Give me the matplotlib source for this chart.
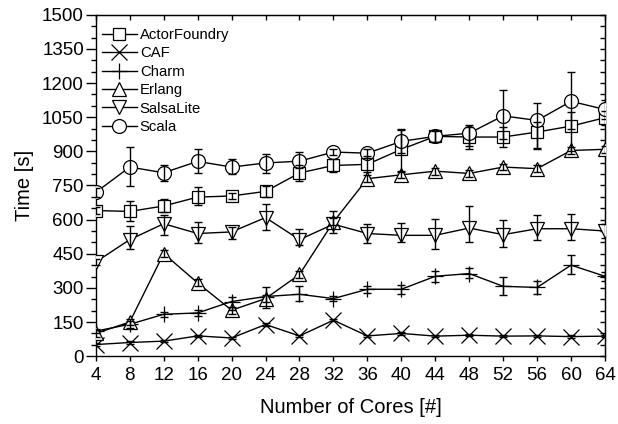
import numpy as np
import matplotlib
matplotlib.use('Agg')
import matplotlib.pyplot as plt
from matplotlib.ticker import MultipleLocator

plt.rcParams['font.family'] = ['Liberation Sans', 'DejaVu Sans']

cores = [4, 8, 12, 16, 20, 24, 28, 32, 36, 40, 44, 48, 52, 56, 60, 64]

actor = [640, 636, 660, 699, 704, 724, 805, 838, 843, 909, 966, 963, 963, 985, 1011, 1048]
actor_lo = [15, 40, 25, 35, 15, 25, 35, 30, 35, 100, 25, 40, 45, 75, 110, 30]
actor_hi = [15, 45, 30, 45, 15, 25, 35, 30, 35, 85, 30, 45, 45, 45, 60, 30]

caf = [51, 60, 66, 89, 80, 139, 89, 158, 89, 100, 88, 92, 88, 89, 86, 88]
caf_lo = [5] * 16
caf_hi = [5] * 16

charm = [110, 140, 184, 190, 240, 262, 272, 253, 294, 294, 351, 363, 307, 302, 400, 351]
charm_lo = [10, 15, 12, 12, 35, 50, 30, 10, 15, 20, 25, 20, 40, 30, 40, 20]
charm_hi = [10, 15, 12, 12, 20, 40, 35, 10, 15, 20, 25, 25, 40, 30, 45, 20]

erlang = [100, 150, 451, 322, 202, 253, 359, 590, 780, 797, 813, 803, 831, 824, 904, 909]
erlang_lo = [15] * 16
erlang_hi = [15] * 16

salsa = [414, 512, 582, 539, 546, 609, 512, 580, 539, 531, 531, 563, 534, 560, 560, 550]
salsa_lo = [15, 40, 50, 40, 30, 55, 25, 40, 40, 30, 60, 60, 55, 50, 50, 30]
salsa_hi = [15, 60, 40, 50, 20, 60, 45, 60, 40, 55, 70, 95, 65, 60, 65, 30]

scala = [720, 831, 806, 856, 831, 849, 857, 897, 892, 944, 966, 980, 1056, 1036, 1120, 1084]
scala_lo = [20, 85, 35, 50, 30, 45, 30, 15, 20, 50, 25, 70, 100, 120, 120, 40]
scala_hi = [20, 88, 35, 55, 35, 40, 40, 15, 20, 55, 25, 35, 115, 75, 130, 40]

series = [
    ('ActorFoundry', actor, actor_lo, actor_hi, 's', 8.5),
    ('CAF', caf, caf_lo, caf_hi, 'x', 11),
    ('Charm', charm, charm_lo, charm_hi, '+', 11),
    ('Erlang', erlang, erlang_lo, erlang_hi, '^', 10),
    ('SalsaLite', salsa, salsa_lo, salsa_hi, 'v', 10),
    ('Scala', scala, scala_lo, scala_hi, 'o', 10),
]

fig = plt.figure(figsize=(6.18, 4.24), dpi=100)
ax = fig.add_axes([0.155, 0.160, 0.824, 0.805])

for name, vals, lo, hi, mk, ms in series:
    ax.plot(cores, vals, color='black', lw=1.0, marker=mk, ms=ms,
            mfc='white', mec='black', mew=0.9, label=name, zorder=3)
    ax.errorbar(cores, vals, yerr=[lo, hi], fmt='none', ecolor='black',
                elinewidth=1.0, capsize=3, capthick=1.0, zorder=4)

ax.set_xlim(4, 64)
ax.set_ylim(0, 1500)
ax.set_xticks(cores)
ax.set_yticks(np.arange(0, 1501, 150))
ax.yaxis.set_minor_locator(MultipleLocator(50))
ax.tick_params(axis='x', which='major', direction='out', length=3.5, width=1,
               labelsize=13.5, pad=4)
ax.tick_params(axis='y', which='major', direction='out', length=7, width=1,
               labelsize=13.5, pad=1.5)
ax.tick_params(axis='y', which='minor', direction='out', length=3.5, width=1)

top = ax.secondary_xaxis('top')
top.set_xticks(cores)
top.tick_params(direction='in', length=3.5, width=1, labeltop=False)
right = ax.secondary_yaxis('right')
right.set_yticks(np.arange(0, 1501, 150))
right.yaxis.set_minor_locator(MultipleLocator(50))
right.tick_params(which='both', direction='in', length=3.5, width=1, labelright=False)

for sp in ax.spines.values():
    sp.set_linewidth(1.0)

ax.set_xlabel('Number of Cores [#]', fontsize=14.5, labelpad=10.5)
ax.set_ylabel('Time [s]', fontsize=14.5, labelpad=6)

ax.legend(loc='upper left', frameon=False, fontsize=10.7, handlelength=2.35,
          handletextpad=0.2, labelspacing=0.3, borderaxespad=0, borderpad=0,
          bbox_to_anchor=(0.012, 0.962))

fig.savefig('out.png', dpi=100)
